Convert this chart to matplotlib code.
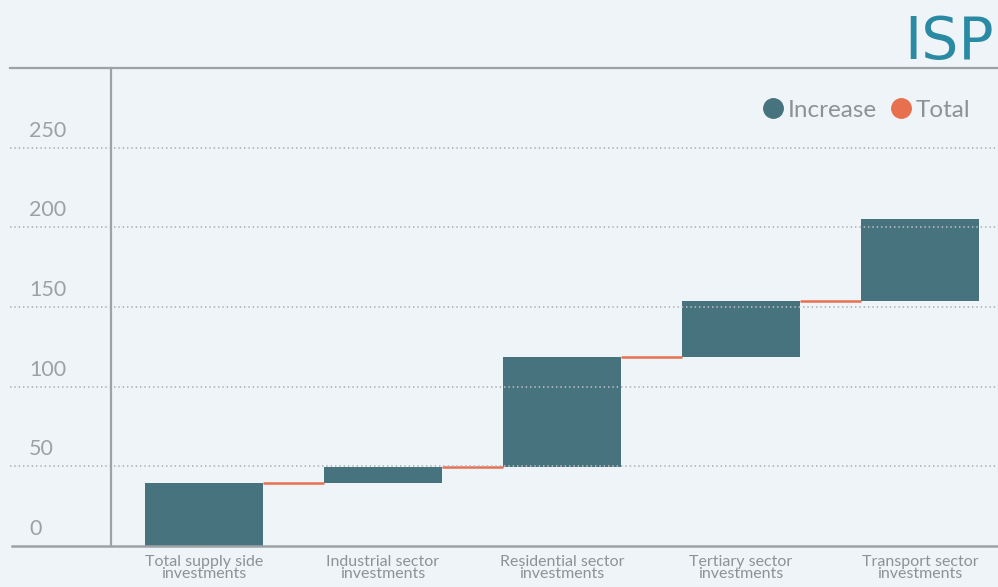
import matplotlib
matplotlib.use("Agg")
import matplotlib.pyplot as plt
from matplotlib.lines import Line2D
import numpy as np

categories = ["Total supply side\ninvestments", "Industrial sector\ninvestments",
              "Residential sector\ninvestments", "Tertiary sector\ninvestments",
              "Transport sector\ninvestments"]
increases = [39.5, 10, 69, 35, 52]
y_ticks = [0, 50, 100, 150, 200, 250]

BG = "#eef4f7"
BAR = "#47737f"
ORANGE = "#e8704f"
TXT = "#8d9295"

plt.rcParams['font.family'] = ['Lato', 'DejaVu Sans']

W, H = 998, 587
fig = plt.figure(figsize=(W / 100, H / 100), dpi=100, facecolor=BG)

def fx(px):
    return px / W

def fy(py):
    return 1 - py / H

ax_left, ax_right, ax_top, ax_bot = 111, 998, 68, 546
ax = fig.add_axes([fx(ax_left), fy(ax_bot), fx(ax_right - ax_left), (ax_bot - ax_top) / H])
ax.set_facecolor(BG)

x = np.arange(len(categories))
bottoms = np.concatenate([[0], np.cumsum(increases)[:-1]])
tops = np.cumsum(increases)
width = 0.66
ax.bar(x, increases, bottom=bottoms, width=width, color=BAR, zorder=3)

for i in range(len(x) - 1):
    ax.plot([x[i] + width / 2, x[i + 1] - width / 2], [tops[i], tops[i]],
            color=ORANGE, lw=1.8, zorder=3, solid_capstyle='butt')

ax.set_xlim(-0.52, 4.436)
ax.set_ylim(0, 300)
for s in ax.spines.values():
    s.set_visible(False)
ax.set_xticks([])
ax.set_yticks([])

# gridlines in figure coordinates (extend left of axes)
for v in y_ticks:
    ypix = ax_bot - v * (ax_bot - ax_top) / 300
    if v > 0:
        fig.add_artist(Line2D([fx(10), fx(998)], [fy(ypix), fy(ypix)], color="#b3b7ba",
                              lw=1.3, linestyle=(0, (0.8, 1.6)), zorder=1))
    fig.text(fx(29), fy(ypix - 17), str(v), fontsize=15.5, color="#9da1a4",
             ha='left', va='center')

# frame lines
fig.add_artist(Line2D([fx(10), fx(998)], [fy(68), fy(68)], color="#9ea2a5", lw=1.6))
fig.add_artist(Line2D([fx(12), fx(998)], [fy(546), fy(546)], color="#9ea2a5", lw=1.8, zorder=5))
fig.add_artist(Line2D([fx(111), fx(111)], [fy(68), fy(546)], color="#9ea2a5", lw=1.6, zorder=5))

# x labels
for xi, lab in zip(x, categories):
    xp = ax.transData.transform((xi, 0))[0]
    fig.text(xp / W, fy(555), lab, fontsize=11.5, color=TXT, ha='center', va='top',
             linespacing=0.82)

# legend
handles = [Line2D([], [], marker='o', color=BAR, linestyle='none', markersize=14),
           Line2D([], [], marker='o', color=ORANGE, linestyle='none', markersize=14)]
fig.legend(handles, ["Increase", "Total"], loc='center right', bbox_to_anchor=(fx(992), fy(110)),
           ncol=2, frameon=False, handletextpad=0.1, columnspacing=0.5,
           prop={'size': 17.5}, labelcolor=TXT, handlelength=1.0)

# logo
fig.text(fx(904), fy(43), "ISP", fontsize=42, color="#2b8aa3", ha='left', va='center',
         fontfamily='DejaVu Sans', fontweight='normal')

fig.savefig("out.png", dpi=100, facecolor=BG)
